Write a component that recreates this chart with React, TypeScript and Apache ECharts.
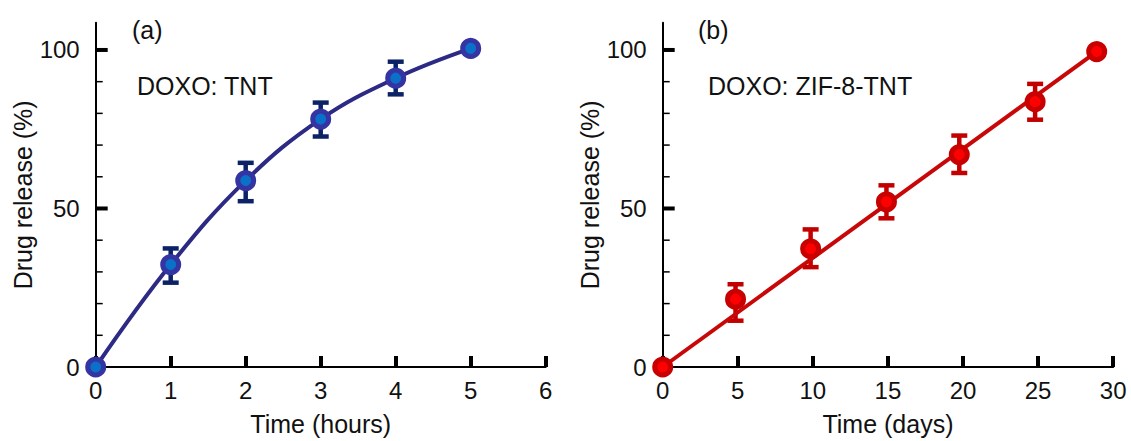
import React, { useEffect, useRef } from "react";
import * as echarts from "echarts";

// Panel (a): DOXO: TNT
const hoursX = [0, 1, 2, 3, 4, 5];
const tntRelease = [0, 32.3, 58.8, 78.2, 91.1, 100.5];
const tntErrX = [1, 2, 3, 4];
const tntErrLow = [26.6, 52.3, 72.7, 86.0];
const tntErrHigh = [37.4, 64.4, 83.4, 96.3];

// Panel (b): DOXO: ZIF-8-TNT
const daysX = [0, 4.85, 9.85, 14.9, 19.75, 24.8, 28.9];
const zifRelease = [0, 21.4, 37.3, 52.1, 67.0, 83.7, 99.5];
const zifErrX = [4.85, 9.85, 14.9, 19.75, 24.8];
const zifErrLow = [14.6, 31.5, 46.9, 61.2, 78.0];
const zifErrHigh = [26.1, 43.4, 57.3, 73.0, 89.3];
const zifFitX = [0, 28.9];
const zifFitY = [0, 99.5];

// y axis ticks
const yLabelValues = [0, 50, 100];
const yMajorTicks = [50, 100];
const yMinorTicks = [10, 20, 30, 40, 60, 70, 80, 90];
const Y_TOP = 108.6; // axis line extends above the last labelled tick

const FONT = "'Liberation Sans', Arial, Helvetica, sans-serif";
const TXT = "#111";

// layout
const PLOT_TOP = 22.7;
const PLOT_H = 345.6;
const PANEL_LEFT = [95.7, 662.7];
const PANEL_W = [450, 450.5];

function errorBarSeries(idx: number, xs: number[], lo: number[], hi: number[], color: string) {
  return {
    type: "custom",
    xAxisIndex: idx,
    yAxisIndex: idx,
    z: 1,
    silent: true,
    data: xs.map((x, i) => [x, lo[i], hi[i]]),
    encode: { x: 0, y: [1, 2] },
    renderItem: (params: any, api: any) => {
      const x = api.value(0);
      const pTop = api.coord([x, api.value(2)]);
      const pBot = api.coord([x, api.value(1)]);
      const hw = 8;
      const st = { stroke: color, lineWidth: 4.5 };
      return {
        type: "group",
        children: [
          { type: "line", shape: { x1: pTop[0], y1: pTop[1], x2: pBot[0], y2: pBot[1] }, style: st },
          { type: "line", shape: { x1: pTop[0] - hw, y1: pTop[1], x2: pTop[0] + hw, y2: pTop[1] }, style: st },
          { type: "line", shape: { x1: pBot[0] - hw, y1: pBot[1], x2: pBot[0] + hw, y2: pBot[1] }, style: st },
        ],
      };
    },
  };
}

// inward ticks on the y axis, drawn at the axis values
function yTickSeries(idx: number, values: number[], len: number, width: number) {
  return {
    type: "custom",
    xAxisIndex: idx,
    yAxisIndex: idx,
    z: 5,
    silent: true,
    clip: false,
    data: values.map((v) => [0, v]),
    encode: { x: 0, y: 1 },
    renderItem: (params: any, api: any) => {
      const p = api.coord([api.value(0), api.value(1)]);
      return {
        type: "line",
        shape: { x1: p[0], y1: p[1], x2: p[0] + len, y2: p[1] },
        style: { stroke: "#000", lineWidth: width },
      };
    },
  };
}

function xAxisCfg(gridIndex: number, max: number, interval: number, name: string) {
  return {
    type: "value",
    gridIndex,
    min: 0,
    max,
    interval,
    name,
    nameLocation: "middle",
    nameGap: 44,
    nameTextStyle: { fontSize: 25, fontFamily: FONT, color: TXT },
    axisLine: { show: true, lineStyle: { color: "#000", width: 2 } },
    axisTick: { show: true, inside: true, length: 11, lineStyle: { color: "#000", width: 4 } },
    axisLabel: { margin: 11, fontSize: 24, fontFamily: FONT, color: TXT },
    splitLine: { show: false },
  };
}

function yAxisCfg(gridIndex: number) {
  return {
    type: "value",
    gridIndex,
    min: 0,
    max: Y_TOP,
    name: "Drug release (%)",
    nameLocation: "middle",
    nameGap: 60,
    nameTextStyle: { fontSize: 25, fontFamily: FONT, color: TXT },
    axisLine: { show: true, lineStyle: { color: "#000", width: 2 } },
    axisTick: { show: false },
    axisLabel: { margin: 16, fontSize: 24, fontFamily: FONT, color: TXT, customValues: yLabelValues },
    splitLine: { show: false },
  };
}

export default function App() {
  const ref = useRef<HTMLDivElement>(null);
  useEffect(() => {
    if (!ref.current) return;
    const chart = echarts.init(ref.current, null, { renderer: "svg" });
    chart.setOption({
      animation: false,
      backgroundColor: "#fff",
      grid: [
        { left: PANEL_LEFT[0], top: PLOT_TOP, width: PANEL_W[0], height: PLOT_H },
        { left: PANEL_LEFT[1], top: PLOT_TOP, width: PANEL_W[1], height: PLOT_H },
      ],
      xAxis: [xAxisCfg(0, 6, 1, "Time (hours)"), xAxisCfg(1, 30, 5, "Time (days)")],
      yAxis: [yAxisCfg(0), yAxisCfg(1)],
      graphic: [
        { type: "text", x: 132, y: 30, style: { text: "(a)", fontSize: 25, fontFamily: FONT, fill: TXT, verticalAlign: "middle" } },
        { type: "text", x: 137, y: 86, style: { text: "DOXO: TNT", fontSize: 25, fontFamily: FONT, fill: TXT, verticalAlign: "middle" } },
        { type: "text", x: 698, y: 30, style: { text: "(b)", fontSize: 25, fontFamily: FONT, fill: TXT, verticalAlign: "middle" } },
        { type: "text", x: 708, y: 86, style: { text: "DOXO: ZIF-8-TNT", fontSize: 25, fontFamily: FONT, fill: TXT, verticalAlign: "middle" } },
      ],
      series: [
        yTickSeries(0, yMajorTicks, 12, 4),
        yTickSeries(0, yMinorTicks, 7, 1.5),
        yTickSeries(1, yMajorTicks, 12, 4),
        yTickSeries(1, yMinorTicks, 7, 1.5),
        errorBarSeries(0, tntErrX, tntErrLow, tntErrHigh, "#0c2266"),
        {
          type: "line",
          xAxisIndex: 0,
          yAxisIndex: 0,
          z: 6,
          smooth: 0.4,
          data: hoursX.map((x, i) => [x, tntRelease[i]]),
          lineStyle: { color: "#2d2a85", width: 4 },
          symbol: "circle",
          symbolSize: 16,
          itemStyle: { color: "#0a70c8", borderColor: "#3434a3", borderWidth: 5 },
          silent: true,
        },
        errorBarSeries(1, zifErrX, zifErrLow, zifErrHigh, "#c20000"),
        {
          type: "line",
          xAxisIndex: 1,
          yAxisIndex: 1,
          z: 6,
          data: zifFitX.map((x, i) => [x, zifFitY[i]]),
          lineStyle: { color: "#c80808", width: 4 },
          showSymbol: false,
          silent: true,
        },
        {
          type: "scatter",
          xAxisIndex: 1,
          yAxisIndex: 1,
          z: 7,
          data: daysX.map((x, i) => [x, zifRelease[i]]),
          symbol: "circle",
          symbolSize: 16,
          itemStyle: { color: "#ff0000", borderColor: "#c80000", borderWidth: 5, opacity: 1 },
          silent: true,
        },
      ],
    });
    return () => chart.dispose();
  }, []);
  return (
    <div
      ref={ref}
      style={{ position: "absolute", left: 0, top: 0, width: 1131, height: 441, background: "#fff" }}
    />
  );
}
